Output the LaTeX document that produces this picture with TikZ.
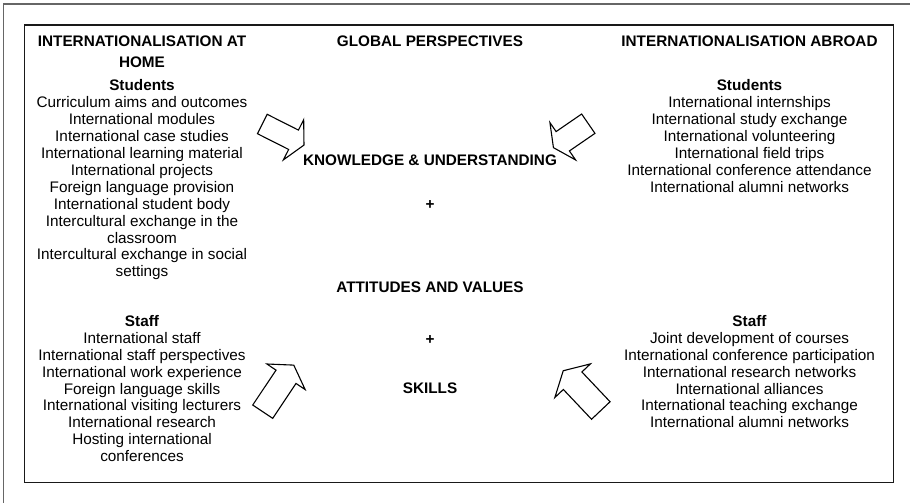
\documentclass[tikz,border=0pt]{standalone}
\usepackage{fontspec}
\setmainfont{Liberation Sans}
\newcommand{\bodysize}{\fontsize{15.3}{16.95}\selectfont}
\newcommand{\headsize}{\fontsize{15.3}{21}\selectfont\bfseries}
% block arrow: tail centre (#1,#2), direction #3, shaft length #4, shaft width #5,
% head width #6, head length #7
\newcommand{\blockarrow}[7]{%
  \begin{scope}[shift={(#1,#2)}, rotate=#3]
    \draw[arrowline] (0,#5/2) -- (#4,#5/2) -- (#4,#6/2) -- (#4+#7,0)
      -- (#4,-#6/2) -- (#4,-#5/2) -- (0,-#5/2) -- cycle;
  \end{scope}}
\begin{document}
\begin{tikzpicture}[x=1pt, y=-1pt,
  % multi-line nodes are placed by the baseline of their last line
  body/.style={font=\bodysize, inner sep=0pt, anchor=base, align=center},
  head/.style={font=\headsize, inner sep=0pt, anchor=base, align=center},
  arrowline/.style={draw=black, line width=1.1pt, line join=miter, fill=white},
  frame/.style={draw=black!60, line width=1.6pt},
  box/.style={draw=black!90, line width=1.3pt}]
\useasboundingbox (0,0) rectangle (910,503);

% outer frame (left and top edges) and inner box
\draw[frame] (3.3,503) -- (3.3,4) -- (910,4);
\draw[box] (24.3,25) rectangle (893.3,482.3);

% left column: at home
\node[head] (lhead) at (142,67.5) {INTERNATIONALISATION AT\\HOME};
\node[body] (lstud) at (142,276.9) {\textbf{Students}\\
  Curriculum aims and outcomes\\
  International modules\\
  International case studies\\
  International learning material\\
  International projects\\
  Foreign language provision\\
  International student body\\
  Intercultural exchange in the\\
  classroom\\
  Intercultural exchange in social\\
  settings};
\node[body] (lstaff) at (142,461.8) {\textbf{Staff}\\
  International staff\\
  International staff perspectives\\
  International work experience\\
  Foreign language skills\\
  International visiting lecturers\\
  International research\\
  Hosting international\\
  conferences};

% centre column: global perspectives
\node[head] (chead) at (430,46.5) {GLOBAL PERSPECTIVES};
\node[head] (cknow) at (430,165.5) {KNOWLEDGE \& UNDERSTANDING};
\node[head] (cplusa) at (430,209) {+};
\node[head] (catt) at (430,292.8) {ATTITUDES AND VALUES};
\node[head] (cplusb) at (430,344) {+};
\node[head] (cskill) at (430,393.8) {SKILLS};

% right column: abroad
\node[head] (rhead) at (749.5,46.5) {INTERNATIONALISATION ABROAD};
\node[body] (rstud) at (749.5,192.2) {\textbf{Students}\\
  International internships\\
  International study exchange\\
  International volunteering\\
  International field trips\\
  International conference attendance\\
  International alumni networks};
\node[body] (rstaff) at (749.5,427.9) {\textbf{Staff}\\
  Joint development of courses\\
  International conference participation\\
  International research networks\\
  International alliances\\
  International teaching exchange\\
  International alumni networks};

% block arrows pointing towards the centre
\blockarrow{262.3}{124}{-26.8}{35}{21.7}{45}{11.7}
\blockarrow{588.3}{123.7}{214.5}{31}{23.5}{45.3}{11.3}
\blockarrow{262.7}{411.7}{56.3}{42}{24}{46}{14}
\blockarrow{600.8}{410.5}{133.4}{41}{25.5}{49}{13.7}
\end{tikzpicture}
\end{document}
